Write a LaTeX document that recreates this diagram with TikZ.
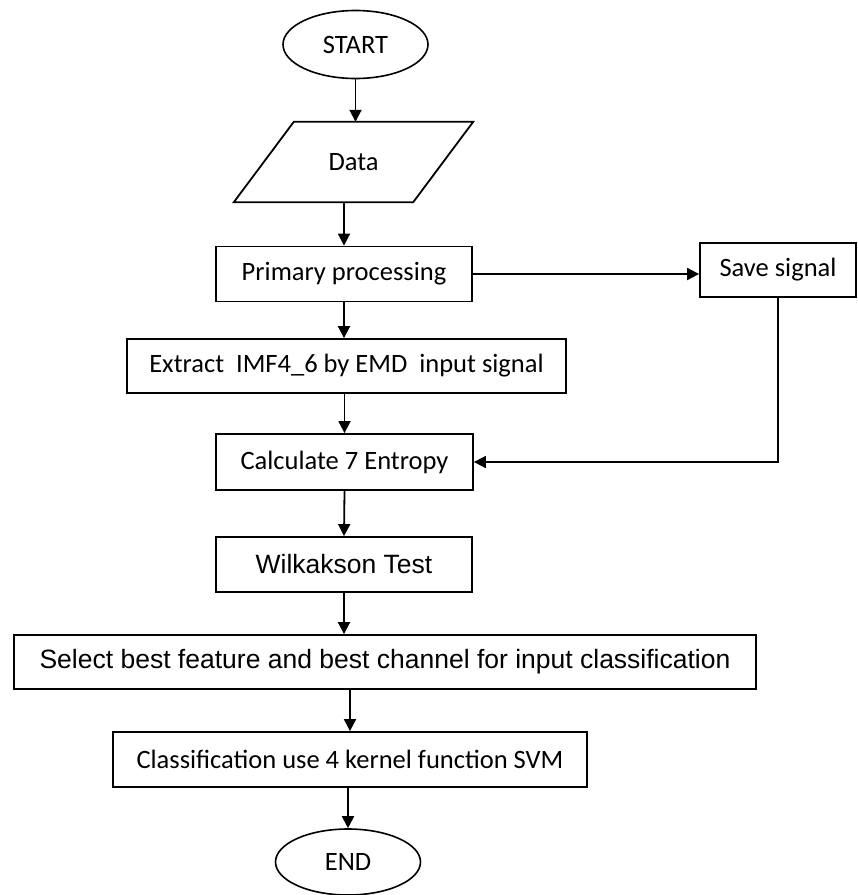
\documentclass[tikz,border=0pt]{standalone}
\usepackage{fontspec}
\usetikzlibrary{shapes.geometric,arrows.meta}
\newfontfamily\carlito{Carlito}
\newfontfamily\arialfont{Liberation Sans}
\tikzset{
  process/.style={draw, line width=1.8pt, minimum height=55pt, inner sep=0pt,
    font=\carlito\fontsize{26.5}{30}\selectfont},
  terminal/.style={draw, ellipse, line width=1.6pt, minimum width=145pt,
    minimum height=68pt, inner sep=0pt, font=\carlito\fontsize{26.5}{30}\selectfont},
  io/.style={minimum width=179pt, minimum height=80pt, inner sep=0pt,
    font=\carlito\fontsize{26.5}{30}\selectfont},
  arial/.style={font=\arialfont\fontsize{26.5}{30}\selectfont},
  arrow/.style={-{Triangle[length=12pt,width=12pt]}, line width=1.8pt}
}
\begin{document}
\begin{tikzpicture}[x=1pt,y=-1pt]
  \useasboundingbox (0,0) rectangle (858,895);
  \node[terminal] (start) at (355.5,44.5) {START};
  \node[io] (data) at (353.5,162) {Data};
  \draw[line width=1.8pt] ([xshift=-30pt]data.south west) -- ([xshift=30pt]data.north west)
    -- ([xshift=30pt]data.north east) -- ([xshift=-30pt]data.south east) -- cycle;
  \node[process, minimum width=256pt] (prim) at (344,274) {Primary processing};
  \node[process, minimum width=156pt, minimum height=54pt] (save) at (778,270) {Save signal};
  \node[process, minimum width=439pt, minimum height=54pt] (imf) at (346.5,366)
    {Extract\ \ IMF4\_6 by EMD\ \ input signal};
  \node[process, minimum width=257pt, minimum height=56pt] (entr) at (344.5,462) {Calculate 7 Entropy};
  \node[process, arial, minimum width=256pt] (wilk) at (344,564.5) {Wilkakson Test};
  \node[process, arial, minimum width=742pt, minimum height=54pt] (select) at (385,662)
    {Select best feature and best channel for input classification};
  \node[process, minimum width=474pt] (svm) at (350,759.5) {Classification use 4 kernel function SVM};
  \node[terminal, minimum height=66pt] (end) at (348,862) {END};

  \draw[arrow] (start.south) -- (start.south |- data.north);
  \draw[arrow] (prim.north |- data.south) -- (prim.north);
  \draw[arrow] (prim.south) -- (prim.south |- imf.north);
  \draw[arrow] (entr.north |- imf.south) -- (entr.north);
  \draw[arrow] (entr.south) -- (wilk.north);
  \draw[arrow] (wilk.south) -- (wilk.south |- select.north);
  \draw[arrow] (svm.north |- select.south) -- (svm.north);
  \draw[arrow] (svm.south -| end.north) -- (end.north);
  \draw[arrow] (prim.east) -- (prim.east -| save.west);
  \draw[arrow] (save.south) |- (entr.east);
\end{tikzpicture}
\end{document}
